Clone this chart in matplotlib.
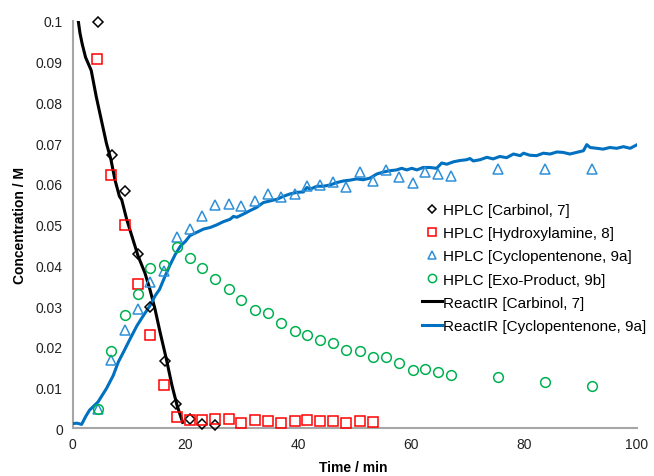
import matplotlib
matplotlib.use("Agg")
import matplotlib.pyplot as plt

plt.rcParams['font.family'] = ['Liberation Sans', 'DejaVu Sans']

# HPLC samples (time in min, concentration in M)
carb_t = [4.5, 6.9, 9.3, 11.5, 13.7, 16.3, 18.4, 20.8, 23.0, 25.3]
carb_c = [0.0996, 0.0670, 0.0583, 0.0428, 0.0299, 0.0165, 0.0059, 0.0023, 0.0012, 0.0008]

hydr_t = [4.4, 6.8, 9.2, 11.5, 13.8, 16.2, 18.5, 20.8, 23.0, 25.3, 27.7, 29.9,
          32.3, 34.6, 37.0, 39.4, 41.6, 43.9, 46.1, 48.5, 50.9, 53.3]
hydr_c = [0.0905, 0.0622, 0.0500, 0.0355, 0.0229, 0.0107, 0.0028, 0.0020, 0.0022,
          0.0024, 0.0024, 0.0014, 0.0020, 0.0018, 0.0014, 0.0018, 0.0022, 0.0018,
          0.0018, 0.0014, 0.0018, 0.0016]

cyc_t = [4.5, 6.8, 9.2, 11.5, 13.8, 16.2, 18.5, 20.8, 23.0, 25.3, 27.7, 29.9,
         32.3, 34.6, 37.0, 39.4, 41.6, 43.9, 46.1, 48.5, 50.9, 53.3, 55.5, 57.9,
         60.3, 62.5, 64.8, 67.0, 75.3, 83.7, 92.0]
cyc_c = [0.0047, 0.0169, 0.0242, 0.0293, 0.0358, 0.0386, 0.0469, 0.0490, 0.0522,
         0.0547, 0.0551, 0.0545, 0.0558, 0.0576, 0.0568, 0.0575, 0.0595, 0.0598,
         0.0605, 0.0592, 0.0630, 0.0606, 0.0635, 0.0616, 0.0603, 0.0630, 0.0624,
         0.0620, 0.0637, 0.0637, 0.0637]

exo_t = cyc_t
exo_c = [0.0049, 0.0189, 0.0279, 0.0329, 0.0393, 0.0402, 0.0446, 0.0417, 0.0394,
         0.0366, 0.0341, 0.0315, 0.0290, 0.0284, 0.0258, 0.0240, 0.0229, 0.0218,
         0.0209, 0.0193, 0.0189, 0.0176, 0.0176, 0.0160, 0.0144, 0.0146, 0.0138,
         0.0130, 0.0126, 0.0115, 0.0103]

# ReactIR traces
ir_carb_t = [1.0, 1.3, 1.7, 2.3, 3.3, 4.2, 5.1, 6.0, 6.8, 7.5, 8.3, 8.7, 9.6,
             10.5, 11.6, 12.8, 13.7, 14.6, 15.5, 16.6, 17.6, 18.5, 19.5]
ir_carb_c = [0.1000, 0.0970, 0.0943, 0.0910, 0.0878, 0.0813, 0.0756, 0.0699,
             0.0659, 0.0610, 0.0569, 0.0561, 0.0512, 0.0472, 0.0423, 0.0382,
             0.0341, 0.0293, 0.0236, 0.0171, 0.0106, 0.0057, 0.0015]

ir_cyc_t = [0.0, 0.8, 1.6, 2.3, 3.0, 4.5, 6.0, 7.2, 8.1, 9.0, 10.2, 11.4, 12.5,
            13.7, 14.6, 15.4, 16.4, 17.3, 18.2, 19.1, 20.0, 20.8, 22.0, 23.2,
            24.4, 25.5, 26.7, 27.9, 28.5, 29.1, 30.3, 31.4, 32.6, 33.2, 33.8,
            35.0, 36.2, 37.3, 38.5, 39.7, 40.9, 41.5, 42.1, 43.3, 44.4, 45.6,
            46.8, 48.0, 49.2, 50.3, 51.5, 52.7, 53.9, 55.1, 56.2, 57.4, 58.3,
            59.2, 60.1, 61.0, 62.1, 63.3, 64.5, 65.4, 66.3, 67.5, 68.6, 69.8,
            70.4, 71.0, 72.2, 73.4, 74.5, 75.7, 76.9, 78.1, 79.3, 79.9, 81.0,
            82.2, 83.4, 84.6, 85.8, 86.9, 88.1, 89.3, 90.5, 91.1, 91.7, 92.9,
            94.0, 95.2, 96.4, 97.6, 98.8, 99.9]
ir_cyc_c = [0.0012, 0.0013, 0.0010, 0.0029, 0.0045, 0.0065, 0.0098, 0.0130,
            0.0163, 0.0187, 0.0220, 0.0252, 0.0276, 0.0301, 0.0325, 0.0341,
            0.0374, 0.0402, 0.0427, 0.0447, 0.0459, 0.0473, 0.0481, 0.0489,
            0.0493, 0.0499, 0.0507, 0.0513, 0.0520, 0.0518, 0.0526, 0.0534,
            0.0542, 0.0548, 0.0554, 0.0558, 0.0562, 0.0569, 0.0575, 0.0579,
            0.0580, 0.0591, 0.0587, 0.0594, 0.0594, 0.0597, 0.0603, 0.0607,
            0.0609, 0.0612, 0.0610, 0.0614, 0.0624, 0.0629, 0.0632, 0.0634,
            0.0638, 0.0634, 0.0638, 0.0634, 0.0640, 0.0640, 0.0638, 0.0651,
            0.0648, 0.0654, 0.0657, 0.0659, 0.0662, 0.0656, 0.0659, 0.0665,
            0.0661, 0.0667, 0.0664, 0.0673, 0.0669, 0.0675, 0.0670, 0.0669,
            0.0675, 0.0673, 0.0678, 0.0677, 0.0673, 0.0677, 0.0681, 0.0696,
            0.0689, 0.0687, 0.0685, 0.0689, 0.0687, 0.0691, 0.0687, 0.0695]

x_ticks = [0, 20, 40, 60, 80, 100]
y_ticks = [0, 0.01, 0.02, 0.03, 0.04, 0.05, 0.06, 0.07, 0.08, 0.09, 0.1]
y_labels = ['0', '0.01', '0.02', '0.03', '0.04', '0.05', '0.06', '0.07', '0.08', '0.09', '0.1']

fig = plt.figure(figsize=(6.54, 4.77), dpi=100)
ax = fig.add_axes([0.111, 0.0996, 0.863, 0.855])

ax.plot(carb_t, carb_c, 'D', ms=5, mfc='none', mec='black', mew=1.1,
        clip_on=False, zorder=4, label='HPLC [Carbinol, 7]')
ax.plot(hydr_t, hydr_c, 's', ms=7, mfc='none', mec='#FF0000', mew=1.1,
        clip_on=False, zorder=4, label='HPLC [Hydroxylamine, 8]')
ax.plot(cyc_t, cyc_c, '^', ms=7.5, mfc='none', mec='#2F8FD8', mew=1.1,
        clip_on=False, zorder=4, label='HPLC [Cyclopentenone, 9a]')
ax.plot(exo_t, exo_c, 'o', ms=7, mfc='none', mec='#00B050', mew=1.1,
        clip_on=False, zorder=4, label='HPLC [Exo-Product, 9b]')
ax.plot(ir_carb_t, ir_carb_c, '-', color='black', lw=2.2, zorder=3,
        label='ReactIR [Carbinol, 7]')
ax.plot(ir_cyc_t, ir_cyc_c, '-', color='#0070C0', lw=2.2, zorder=3,
        label='ReactIR [Cyclopentenone, 9a]')

ax.set_xlim(0, 100)
ax.set_ylim(0, 0.1)
ax.set_xticks(x_ticks)
ax.set_yticks(y_ticks)
ax.set_yticklabels(y_labels)
ax.tick_params(length=0, labelsize=10, colors='#222222')
ax.tick_params(axis='y', pad=7)
ax.tick_params(axis='x', pad=6)

for s in ['top', 'right']:
    ax.spines[s].set_visible(False)
for s in ['left', 'bottom']:
    ax.spines[s].set_color('#A6A6A6')
    ax.spines[s].set_linewidth(1.5)

ax.set_xlabel('Time / min', fontsize=10, fontweight='bold')
ax.set_ylabel('Concentration / M', fontsize=10, fontweight='bold')
ax.xaxis.set_label_coords(0.497, -0.077)
ax.yaxis.set_label_coords(-0.081, 0.5)

ax.legend(loc='upper left', bbox_to_anchor=(0.645, 0.572),
          bbox_transform=fig.transFigure, frameon=False, fontsize=11,
          handlelength=1.3, handletextpad=0.1, labelspacing=0.6,
          markerscale=0.85, borderpad=0, borderaxespad=0)

fig.savefig('out.png', dpi=100)
